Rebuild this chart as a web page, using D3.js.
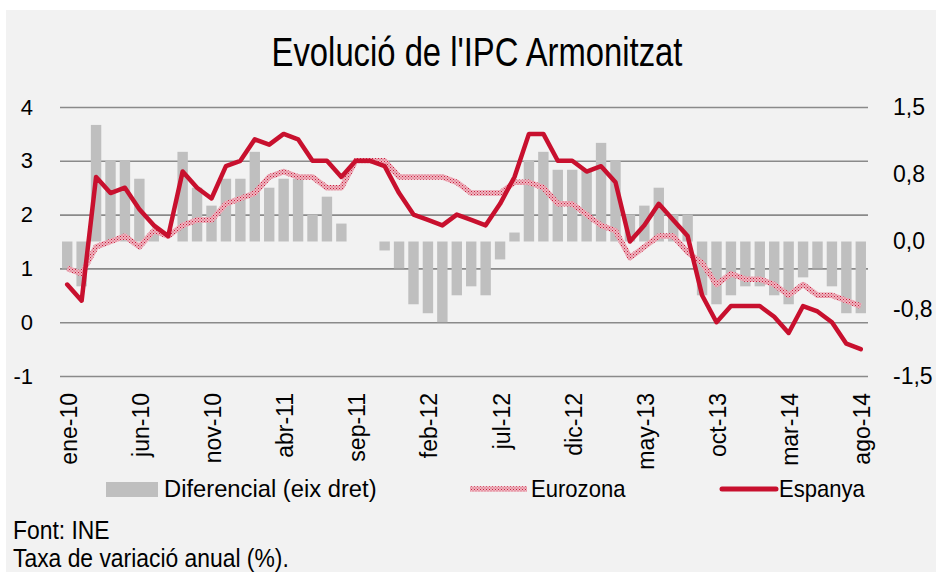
<!DOCTYPE html>
<html>
<head>
<meta charset="utf-8">
<script src="https://cdn.jsdelivr.net/npm/d3@7"></script>
<style>
  html, body { margin: 0; padding: 0; background: #ffffff; }
  svg { display: block; }
  text { font-family: "Liberation Sans", Arial, sans-serif; fill: #000; }
</style>
</head>
<body>
<div id="chart"></div>
<script>
// ---- Data (annual rate, %)
const monthNames = ['ene', 'feb', 'mar', 'abr', 'may', 'jun', 'jul', 'ago', 'sep', 'oct', 'nov', 'dic'];
const years = ['10', '11', '12', '13', '14'];
const months = years.flatMap(y => monthNames.map(m => `${m}-${y}`)).slice(0, 56);

const espanya = [
  0.7, 0.4, 2.7, 2.4, 2.5, 2.1, 1.8, 1.6, 2.8, 2.5, 2.3, 2.9,
  3.0, 3.4, 3.3, 3.5, 3.4, 3.0, 3.0, 2.7, 3.0, 3.0, 2.9, 2.4,
  2.0, 1.9, 1.8, 2.0, 1.9, 1.8, 2.2, 2.7, 3.5, 3.5, 3.0, 3.0,
  2.8, 2.9, 2.6, 1.5, 1.8, 2.2, 1.9, 1.6, 0.5, 0.0, 0.3, 0.3,
  0.3, 0.1, -0.2, 0.3, 0.2, 0.0, -0.4, -0.5
];
const eurozona = [
  1.0, 0.9, 1.4, 1.5, 1.6, 1.4, 1.7, 1.6, 1.8, 1.9, 1.9, 2.2,
  2.3, 2.4, 2.7, 2.8, 2.7, 2.7, 2.5, 2.5, 3.0, 3.0, 3.0, 2.7,
  2.7, 2.7, 2.7, 2.6, 2.4, 2.4, 2.4, 2.6, 2.6, 2.5, 2.2, 2.2,
  2.0, 1.8, 1.7, 1.2, 1.4, 1.6, 1.6, 1.3, 1.1, 0.7, 0.9, 0.8,
  0.8, 0.7, 0.5, 0.7, 0.5, 0.5, 0.4, 0.3
];
// differential Espanya - Eurozona (right axis)
const diferencial = [
  -0.3, -0.5, 1.3, 0.9, 0.9, 0.7, 0.1, 0.0, 1.0, 0.6, 0.4, 0.7,
  0.7, 1.0, 0.6, 0.7, 0.7, 0.3, 0.5, 0.2, 0.0, 0.0, -0.1, -0.3,
  -0.7, -0.8, -0.9, -0.6, -0.5, -0.6, -0.2, 0.1, 0.9, 1.0, 0.8, 0.8,
  0.8, 1.1, 0.9, 0.3, 0.4, 0.6, 0.3, 0.3, -0.6, -0.7, -0.6, -0.5,
  -0.5, -0.6, -0.7, -0.4, -0.3, -0.5, -0.8, -0.8
];

const leftTicks = [-1, 0, 1, 2, 3, 4];
const rightTicks = [-1.5, -0.75, 0, 0.75, 1.5];
const xTickLabels = ['ene-10', 'jun-10', 'nov-10', 'abr-11', 'sep-11', 'feb-12', 'jul-12', 'dic-12', 'may-13', 'oct-13', 'mar-14', 'ago-14'];

const title = "Evolució de l'IPC Armonitzat";
const legendLabels = ['Diferencial (eix dret)', 'Eurozona', 'Espanya'];
const notes = ['Font: INE', 'Taxa de variació anual (%).'];

// ---- Layout
const W = 936, H = 572;
const margin = { left: 60, right: 68, top: 107, bottom: 196 };
const plotW = W - margin.left - margin.right;
const plotH = H - margin.top - margin.bottom;

const red = '#c8102e';
const barGrey = '#bfbfbf';
const gridGrey = '#8a8a8a';

const svg = d3.select('#chart').append('svg')
  .attr('width', W).attr('height', H);

// condensed look: Liberation Sans squeezed horizontally
function squeezed(parent, x, y, size, sx, str, anchor = 'start') {
  return parent.append('text')
    .attr('transform', `translate(${x},${y}) scale(${sx},1)`)
    .attr('text-anchor', anchor)
    .style('font-size', size + 'px')
    .text(str);
}

// Eurozona pattern (textured pink stroke)
const defs = svg.append('defs');
const pat = defs.append('pattern')
  .attr('id', 'euroPat')
  .attr('patternUnits', 'userSpaceOnUse')
  .attr('width', 3).attr('height', 3);
pat.append('rect').attr('width', 3).attr('height', 3).attr('fill', '#efb4bf');
pat.append('rect').attr('x', 0).attr('y', 0).attr('width', 1).attr('height', 1).attr('fill', '#c8203f');
pat.append('rect').attr('x', 1.5).attr('y', 1.5).attr('width', 1).attr('height', 1).attr('fill', '#d04560');

// ---- Panel background
svg.append('rect')
  .attr('x', 6).attr('y', 10)
  .attr('width', W - 6).attr('height', H - 10)
  .attr('fill', '#f2f2f2');

// ---- Title
squeezed(svg, 477, 66, 41, 0.8, title, 'middle');

// ---- Scales
const x = d3.scaleBand().domain(months).range([0, plotW]).paddingInner(0.28).paddingOuter(0.14);
const xc = d => x(d) + x.bandwidth() / 2;
const yL = d3.scaleLinear().domain([-1, 4]).range([plotH, 0]);
const yR = d3.scaleLinear().domain([-1.5, 1.5]).range([plotH, 0]);

const g = svg.append('g').attr('transform', `translate(${margin.left},${margin.top})`);

// ---- Left axis + grid
const axL = g.append('g')
  .call(d3.axisLeft(yL).tickValues(leftTicks).tickSize(-plotW)
    .tickFormat(d => String(d)));
axL.select('.domain').remove();
axL.selectAll('.tick line').attr('stroke', gridGrey).attr('stroke-width', 1.6);
axL.selectAll('.tick text')
  .attr('x', -27)
  .style('font-size', '22px')
  .style('font-family', '"Liberation Sans", Arial, sans-serif')
  .attr('fill', '#000');

// ---- Right axis
const axR = g.append('g')
  .attr('transform', `translate(${plotW},0)`)
  .call(d3.axisRight(yR).tickValues(rightTicks).tickSize(0)
    .tickFormat(d => d3.format('.1f')(d).replace('.', ',').replace('\u2212', '-')));
axR.select('.domain').remove();
axR.selectAll('.tick text')
  .attr('x', 25)
  .style('font-size', '23px')
  .style('font-family', '"Liberation Sans", Arial, sans-serif')
  .attr('fill', '#000');

// ---- Bars (differential, right axis)
g.append('g').selectAll('rect')
  .data(months)
  .join('rect')
  .attr('x', d => x(d))
  .attr('width', x.bandwidth())
  .attr('y', (d, i) => yR(Math.max(0, diferencial[i])))
  .attr('height', (d, i) => Math.abs(yR(diferencial[i]) - yR(0)))
  .attr('fill', barGrey);

// ---- Lines
const line = d3.line().x(d => xc(d[0])).y(d => yL(d[1]));
g.append('path')
  .datum(months.map((m, i) => [m, eurozona[i]]))
  .attr('d', line)
  .attr('fill', 'none')
  .attr('stroke', 'url(#euroPat)')
  .attr('stroke-width', 5.5)
  .attr('stroke-linejoin', 'round');
g.append('path')
  .datum(months.map((m, i) => [m, espanya[i]]))
  .attr('d', line)
  .attr('fill', 'none')
  .attr('stroke', red)
  .attr('stroke-width', 4.5)
  .attr('stroke-linejoin', 'round')
  .attr('stroke-linecap', 'round');

// ---- X axis (rotated labels)
const axX = g.append('g')
  .attr('transform', `translate(0,${plotH})`)
  .call(d3.axisBottom(x).tickValues(xTickLabels).tickSize(0));
axX.select('.domain').remove();
axX.selectAll('.tick text')
  .attr('transform', 'translate(1.5,17) rotate(-90)')
  .attr('x', 0).attr('y', 0).attr('dy', '0.35em')
  .attr('text-anchor', 'end')
  .style('font-family', '"Liberation Sans", Arial, sans-serif')
  .style('font-size', '23px')
  .attr('fill', '#000');

// ---- Legend
const leg = svg.append('g');
leg.append('rect').attr('x', 106).attr('y', 482).attr('width', 52).attr('height', 15).attr('fill', barGrey);
leg.append('line').attr('x1', 470).attr('x2', 527).attr('y1', 489).attr('y2', 489)
  .attr('stroke', 'url(#euroPat)').attr('stroke-width', 5.5);
leg.append('line').attr('x1', 722).attr('x2', 776).attr('y1', 489).attr('y2', 489)
  .attr('stroke', red).attr('stroke-width', 5).attr('stroke-linecap', 'round');
squeezed(leg, 164, 497, 24, 0.99, legendLabels[0]);
squeezed(leg, 531, 497, 24, 0.92, legendLabels[1]);
squeezed(leg, 779, 497, 24, 0.92, legendLabels[2]);

// ---- Notes
squeezed(svg, 13, 539, 26, 0.88, notes[0]);
squeezed(svg, 13, 567, 26, 0.88, notes[1]);
</script>
</body>
</html>
